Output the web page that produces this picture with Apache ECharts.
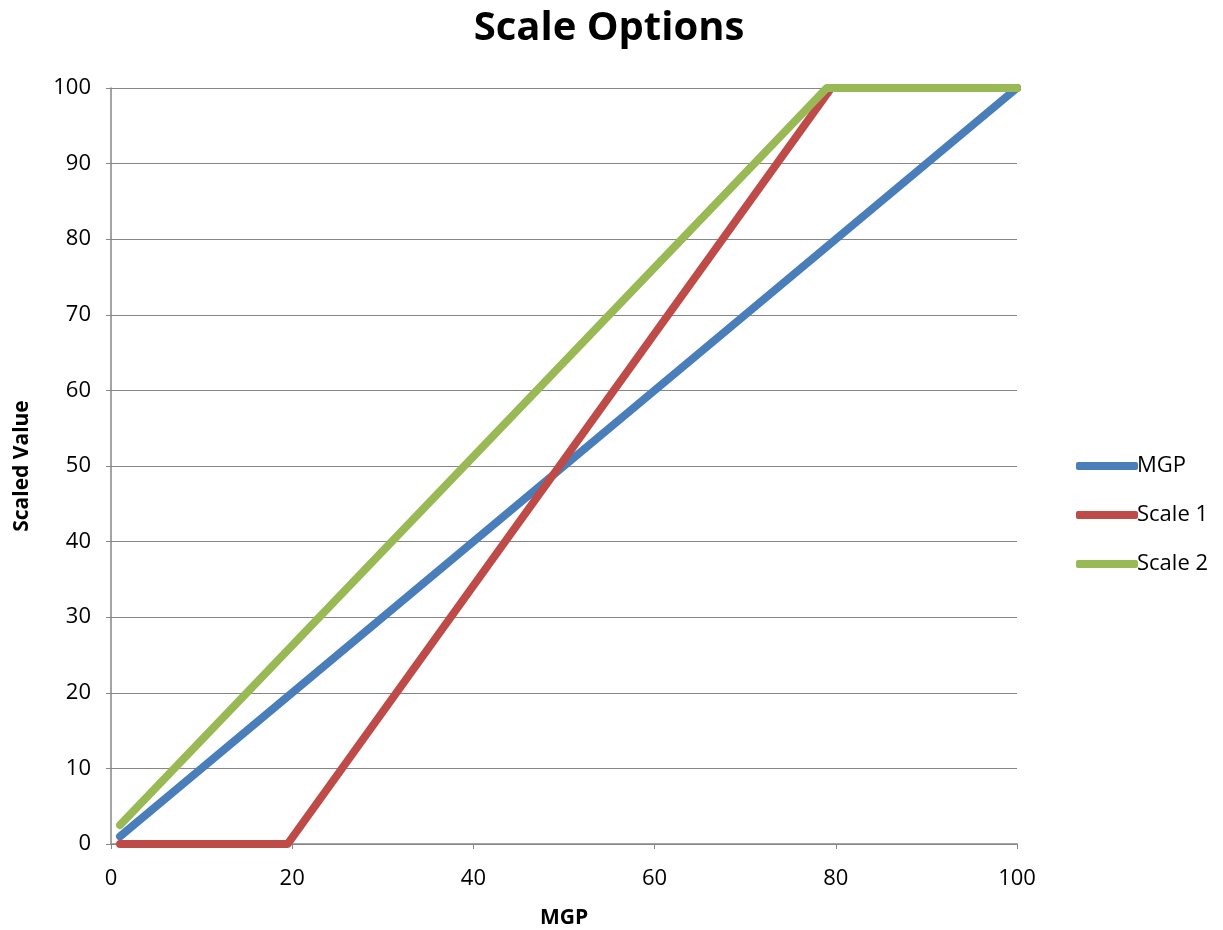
<!DOCTYPE html>
<html><head><meta charset="utf-8">
<script src="https://cdn.jsdelivr.net/npm/echarts@6/dist/echarts.min.js"></script>
<style>html,body{margin:0;padding:0;background:#fff}#c{width:1223px;height:930px}</style>
</head><body><div id="c"></div>
<script>
const seriesNames = ['MGP', 'Scale 1', 'Scale 2'];
const mgpPoints = [[1, 1], [100, 100]];
const scale1Points = [[1, 0], [19.5, 0], [79.5, 100], [100, 100]];
const scale2Points = [[1, 2.5], [79, 100], [100, 100]];
const colors = ['#4A7EBB', '#BE4B48', '#98B954'];
const FONT = 'Open Sans';

const chart = echarts.init(document.getElementById('c'));
const data = [mgpPoints, scale1Points, scale2Points];
chart.setOption({
  animation: false,
  color: colors,
  title: {
    text: 'Scale Options', left: 604, top: 4, textAlign: 'center',
    textStyle: {fontFamily: FONT, fontWeight: 'bold', fontSize: 40, color: '#000'}
  },
  legend: {
    orient: 'vertical', left: 1071, top: 450, itemGap: 27,
    itemWidth: 62, itemHeight: 8, icon: 'roundRect',
    textStyle: {fontFamily: FONT, fontSize: 22, color: '#000', padding: [0, 0, 0, -6]},
    data: seriesNames
  },
  grid: {left: 111, right: 206, top: 88, bottom: 86, outerBoundsMode: 'none', containLabel: false},
  xAxis: {
    type: 'value', min: 0, max: 100, interval: 20,
    name: 'MGP', nameLocation: 'middle', nameGap: 64,
    nameTextStyle: {fontFamily: FONT, fontWeight: 'bold', fontSize: 21, color: '#000'},
    axisLine: {lineStyle: {color: '#868686', width: 1.5}},
    axisTick: {show: true, length: 5, lineStyle: {color: '#868686'}},
    axisLabel: {fontFamily: FONT, fontSize: 22, color: '#000', margin: 24},
    splitLine: {show: false}
  },
  yAxis: {
    type: 'value', min: 0, max: 100, interval: 10,
    name: 'Scaled Value', nameLocation: 'middle', nameGap: 78, nameRotate: 90,
    nameTextStyle: {fontFamily: FONT, fontWeight: 'bold', fontSize: 21, color: '#000'},
    axisLine: {show: true, lineStyle: {color: '#868686', width: 1.5}},
    axisTick: {show: true, length: 5, lineStyle: {color: '#868686'}},
    axisLabel: {fontFamily: FONT, fontSize: 22, color: '#000', margin: 20},
    splitLine: {show: true, lineStyle: {color: '#868686', width: 1.2}}
  },
  series: seriesNames.map((n, i) => ({
    name: n, type: 'line', data: data[i], showSymbol: false, symbol: 'none',
    lineStyle: {width: 8, color: colors[i], cap: 'round', join: 'round'},
    z: 2 + (i === 2 ? 1 : 0)
  }))
});
</script></body></html>
